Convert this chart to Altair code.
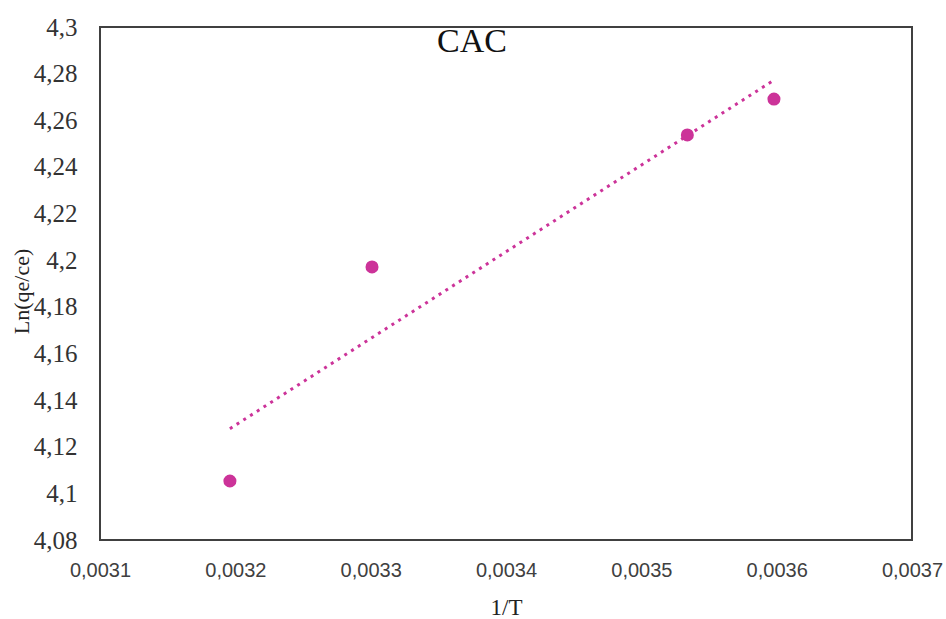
import altair as alt
import pandas as pd

# Adsorption data: inverse temperature vs ln(qe/ce)
inv_T = [0.003196, 0.003301, 0.003534, 0.003598]
ln_qe_ce = [4.1053, 4.1971, 4.2537, 4.2691]

x_ticks = [0.0031, 0.0032, 0.0033, 0.0034, 0.0035, 0.0036, 0.0037]
y_ticks = [4.08, 4.10, 4.12, 4.14, 4.16, 4.18, 4.20, 4.22, 4.24, 4.26, 4.28, 4.30]

chart_title = ["CAC"]

df = pd.DataFrame({"invT": inv_T, "lnK": ln_qe_ce})
title_df = pd.DataFrame({"label": chart_title})

MAGENTA = "#CC3399"
SERIF = "Liberation Serif"
SANS = "Liberation Sans"

x_enc = alt.X(
    "invT:Q",
    scale=alt.Scale(domain=[0.0031, 0.0037], nice=False, zero=False),
    axis=alt.Axis(
        values=x_ticks,
        labelExpr="replace(format(datum.value, '.4f'), '.', ',')",
        title="1/T",
        titleFont=SERIF,
        titleFontSize=23,
        titleFontWeight="normal",
        titleColor="#222222",
        titleBaseline="alphabetic",
        titleY=74,
        labelFont=SANS,
        labelFontSize=20,
        labelColor="#404040",
        labelPadding=20,
        ticks=False,
        domain=False,
        grid=False,
        labelOverlap=False,
        labelFlush=False,
    ),
)

y_enc = alt.Y(
    "lnK:Q",
    scale=alt.Scale(domain=[4.08, 4.30], nice=False, zero=False),
    axis=alt.Axis(
        values=y_ticks,
        labelExpr="replace(format(datum.value, '.2~f'), '.', ',')",
        title="Ln(qe/ce)",
        titleFont=SERIF,
        titleFontSize=22,
        titleFontWeight="normal",
        titleColor="#222222",
        titleX=-67,
        titleY=264,
        labelFont=SERIF,
        labelFontSize=25,
        labelColor="#333333",
        labelPadding=23,
        ticks=False,
        domain=False,
        grid=False,
        labelOverlap=False,
        labelFlush=False,
    ),
)

base = alt.Chart(df)

points = base.mark_circle(size=170, color=MAGENTA, opacity=1).encode(x=x_enc, y=y_enc)

trend = (
    base.transform_regression("invT", "lnK", method="linear")
    .mark_line(color=MAGENTA, strokeWidth=3, strokeDash=[3, 5], strokeCap="butt")
    .encode(x=x_enc, y=y_enc)
)

# Chart heading, drawn inside the plot frame near the top
heading = (
    alt.Chart(title_df)
    .mark_text(
        font=SERIF,
        fontSize=34,
        color="#111111",
        align="center",
        baseline="alphabetic",
    )
    .encode(text="label:N", x=alt.value(372), y=alt.value(25))
)

chart = (
    alt.layer(trend, points, heading)
    .properties(
        width=812,
        height=513,
        padding={"left": 100, "top": 27, "right": 34, "bottom": 79},
        autosize=alt.AutoSizeParams(type="none"),
        view=alt.ViewBackground(stroke="#404040", strokeWidth=2),
    )
    .configure(background="white")
)

chart.save("out.html", embed_options={"renderer": "svg", "actions": False})
